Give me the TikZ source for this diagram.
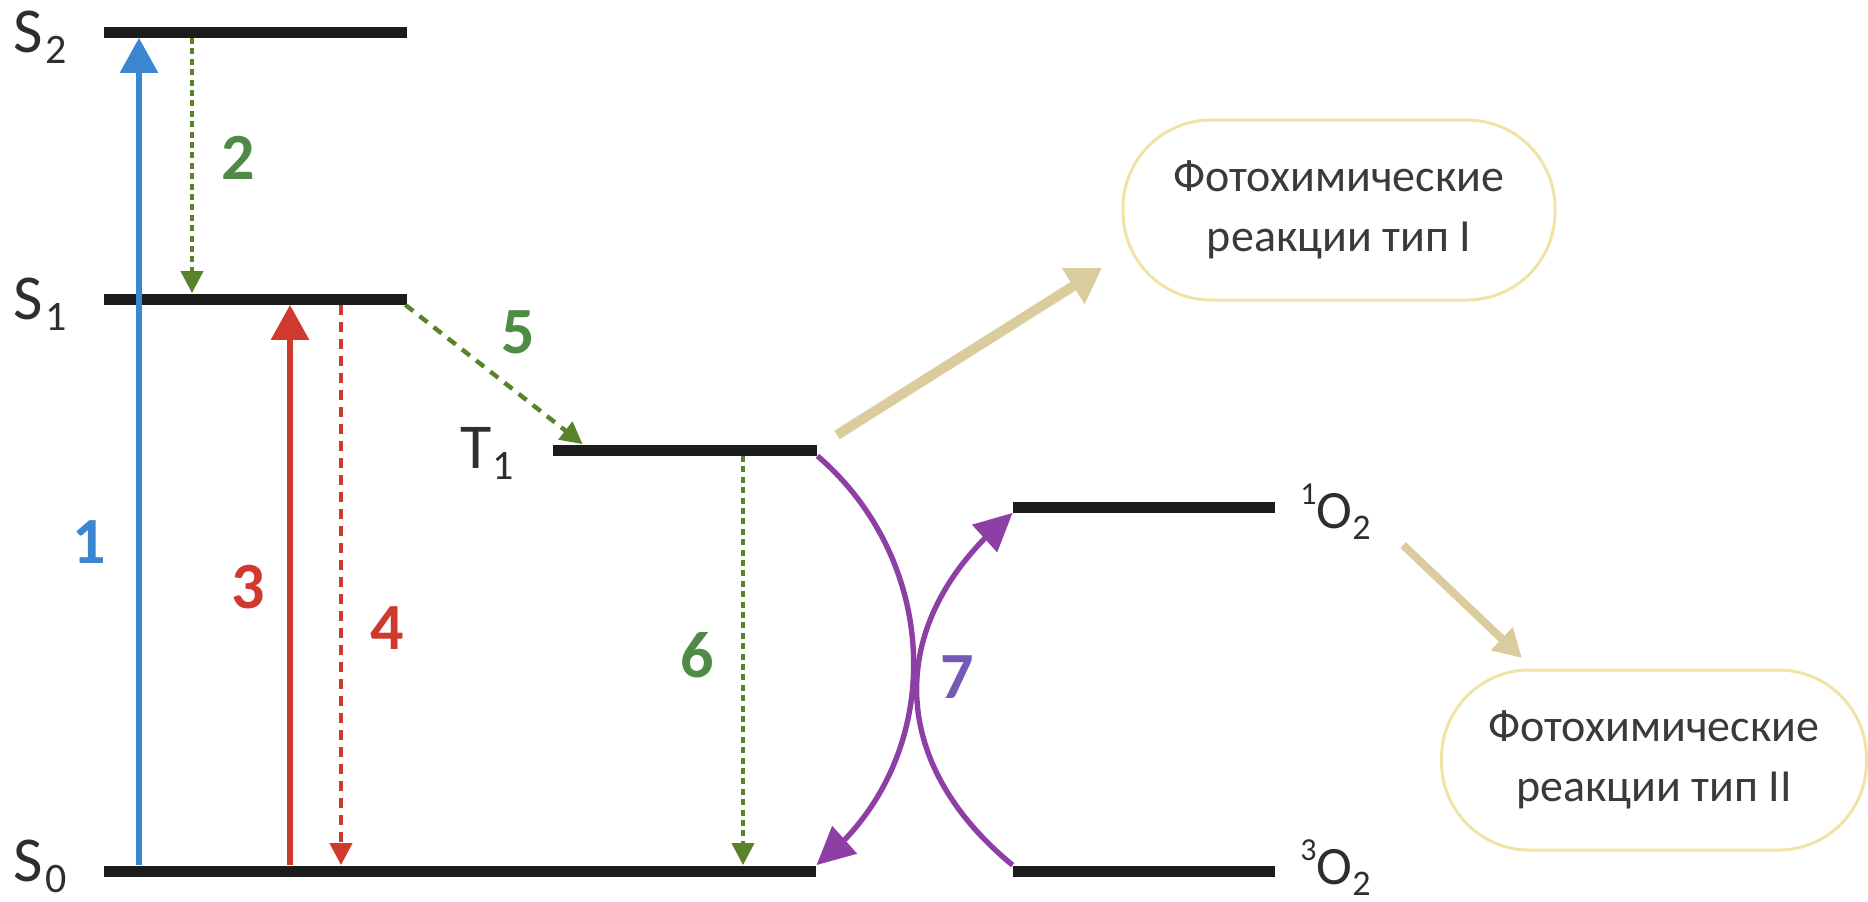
\documentclass[tikz,border=0pt]{standalone}
\usepackage{fontspec}
\setmainfont{Carlito}
\usetikzlibrary{arrows.meta,bending,calc}

\definecolor{barblack}{HTML}{1C1C1C}
\definecolor{labelgray}{HTML}{2E2E2E}
\definecolor{textgray}{HTML}{3A3A3A}
\definecolor{absblue}{HTML}{3B86D1}
\definecolor{relgreen}{HTML}{58832A}
\definecolor{numgreen}{HTML}{4F8A47}
\definecolor{fluored}{HTML}{D0392E}
\definecolor{transpurple}{HTML}{8E3FA6}
\definecolor{numpurple}{HTML}{7459B5}
\definecolor{tanarrow}{HTML}{DBCC9E}
\definecolor{boxyellow}{HTML}{EFE3A6}

% subscript / superscript helpers for the level labels
\newcommand\levsub[2]{{\fontsize{#1}{#1}\selectfont\raisebox{-5.5pt}{#2}}}
\newcommand\levsup[2]{{\fontsize{#1}{#1}\selectfont\raisebox{12pt}{#2}}}

\begin{document}
\begin{tikzpicture}[x=0.5pt,y=-0.5pt,
  level/.style={fill=barblack, draw=none, inner sep=0pt, minimum height=5.5pt},
  lbl/.style={inner sep=0pt, anchor=base west, text=labelgray},
  num/.style={inner sep=0pt, font=\fontsize{33}{33}\selectfont\bfseries},
  outcome/.style={draw=boxyellow, line width=1.5pt, rounded corners=44pt,
    minimum height=90pt, align=center, inner sep=0pt, text=textgray,
    font=\fontsize{23}{30}\selectfont},
  solidup/.style={line width=3pt, -{Triangle[length=17.5pt,width=18.5pt]}},
  dotdown/.style={line width=1.9pt, dash pattern=on 3pt off 2.2pt,
    -{Triangle[length=11pt,width=11pt]}},
  dashdown/.style={line width=2pt, dash pattern=on 5pt off 3.5pt,
    -{Triangle[length=11pt,width=11pt]}},
  cross/.style={transpurple, line width=2.7pt, -{Triangle[length=19pt,width=18pt]}},
  outflow/.style={tanarrow, -{Triangle[length=17pt,width=20pt]}},
]
\useasboundingbox (0,0) rectangle (1868,901);

% energy levels
\node[level, minimum width=151.5pt] (S2) at (255.5,32) {};
\node[level, minimum width=151.5pt] (S1) at (255.5,299) {};
\node[level, minimum width=132pt]   (T1) at (685,450) {};
\node[level, minimum width=356pt]   (S0) at (460,871) {};
\node[level, minimum width=131pt]   (O1) at (1144,507) {};
\node[level, minimum width=131pt]   (O3) at (1144,871) {};

% level labels
\node[lbl, font=\fontsize{32}{32}\selectfont] (lS2) at (13,52)  {S\kern1.5pt\levsub{21}{2}};
\node[lbl, font=\fontsize{32}{32}\selectfont] (lS1) at (13,319) {S\kern1.5pt\levsub{21}{1}};
\node[lbl, font=\fontsize{32}{32}\selectfont] (lS0) at (13,881) {S\kern1.5pt\levsub{21}{0}};
\node[lbl, font=\fontsize{32}{32}\selectfont] (lT1) at (460,468) {T\kern0.5pt\levsub{21}{1}};
\node[lbl, font=\fontsize{27}{27}\selectfont] (lO1) at (1300,528) {\levsup{16}{1}O\levsub{18}{2}};
\node[lbl, font=\fontsize{27}{27}\selectfont] (lO3) at (1300,884) {\levsup{16}{3}O\levsub{18}{2}};

% outcome boxes
\node[outcome, minimum width=216pt]   (typeI)  at (1339,210) {Фотохимические\\реакции тип I};
\node[outcome, minimum width=212.5pt] (typeII) at (1654,760) {Фотохимические\\реакции тип II};

% x positions of the vertical transitions
\coordinate (x1) at (139,0);
\coordinate (x2) at (192,0);
\coordinate (x3) at (290,0);
\coordinate (x4) at (341,0);
\coordinate (x6) at (743,0);

% 1: absorption S0 -> S2
\draw[solidup, absblue] (x1 |- S0.north) -- (x1 |- S2.south);
% 2: internal conversion S2 -> S1
\draw[dotdown, relgreen] (x2 |- S2.south) -- (x2 |- S1.north);
% 3: absorption S0 -> S1
\draw[solidup, fluored] (x3 |- S0.north) -- (x3 |- S1.south);
% 4: fluorescence S1 -> S0
\draw[dashdown, fluored] (x4 |- S1.south) -- (x4 |- S0.north);
% 5: intersystem crossing S1 -> T1
\coordinate (iscEnd) at ($(T1.north west)+(30,0)$);
\draw[dashdown, relgreen, line width=2.2pt, dash pattern=on 5pt off 4pt]
  ($(S1.south east)+(-2,0)$) -- (iscEnd);
% 6: phosphorescence T1 -> S0
\draw[dotdown, relgreen] (x6 |- T1.south) -- (x6 |- S0.north);
% 7: energy transfer to oxygen
\draw[cross] (T1.south east) .. controls +(128,110) and +(130,-100) .. (S0.north east);
\draw[cross] (O3.north west) .. controls +(-128,-105) and +(-128,105) .. (O1.south west);

% branching to the reaction types
\coordinate (tI0) at (837,435);
\coordinate (tI1) at (1102,268);
\draw[outflow, line width=5pt] (tI0) -- (tI1);
\coordinate (tII0) at (1403,545);
\coordinate (tII1) at (1522,658);
\draw[outflow, line width=4pt, -{Triangle[length=14pt,width=15pt]}] (tII0) -- (tII1);

% transition numbers
\node[num, text=absblue]    (n1) at (89,542)  {1};
\node[num, text=numgreen]   (n2) at (238,158) {2};
\node[num, text=fluored]    (n3) at (248,587) {3};
\node[num, text=fluored]    (n4) at (387,628) {4};
\node[num, text=numgreen]   (n5) at (518,332) {5};
\node[num, text=numgreen]   (n6) at (697,655) {6};
\node[num, text=numpurple]  (n7) at (957,677) {7};
\end{tikzpicture}
\end{document}
